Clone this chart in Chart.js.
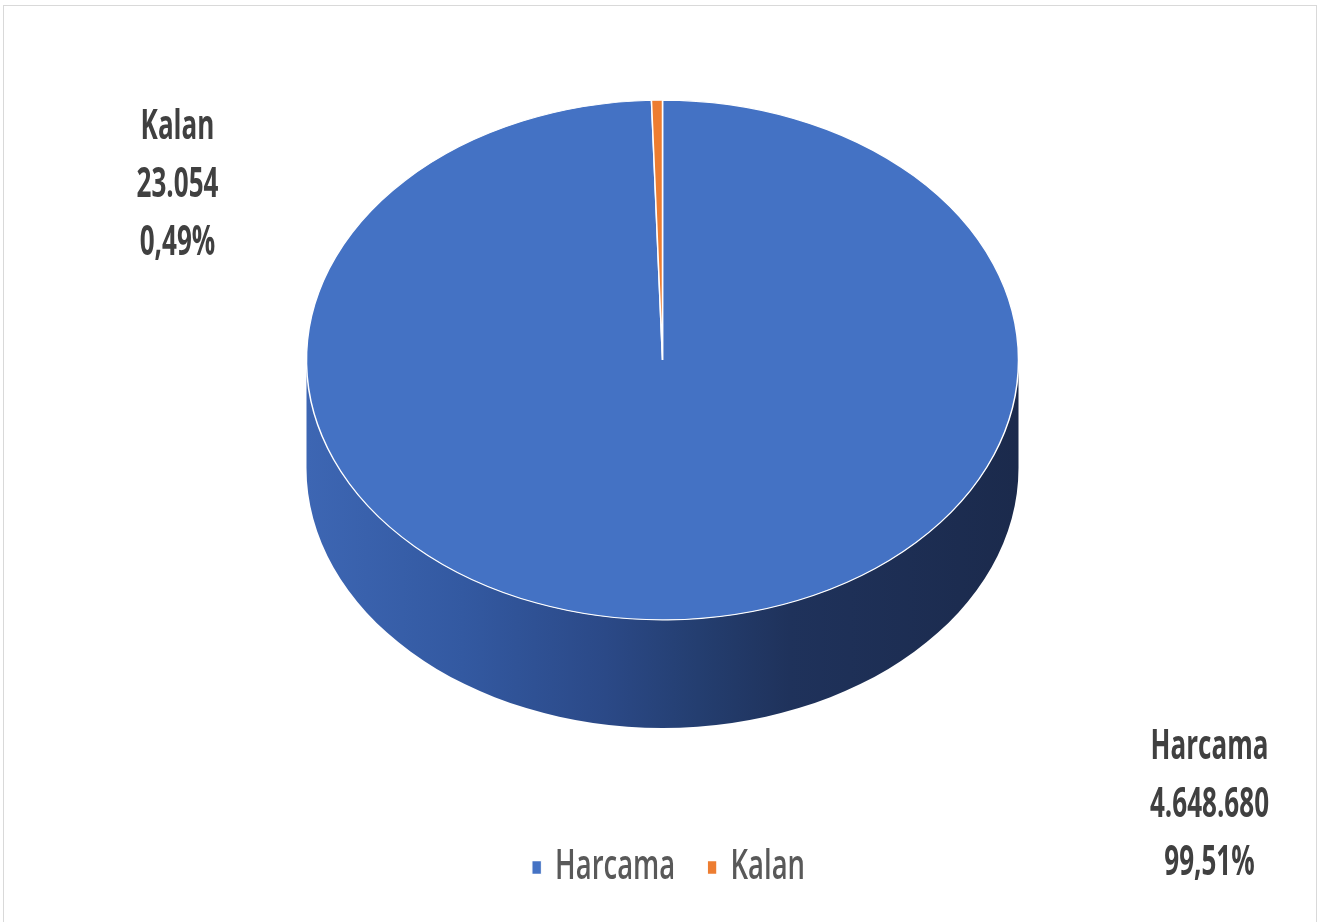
<!DOCTYPE html>
<html>
<head>
<meta charset="utf-8">
<script src="https://cdn.jsdelivr.net/npm/chart.js@4/dist/chart.umd.min.js"></script>
<style>
    html, body { margin: 0; padding: 0; background: #fff; }
    #wrap { position: relative; width: 1333px; height: 922px; }
    #frame {
        position: absolute; left: 3px; top: 5px; width: 1314px; height: 920px;
        border: 1px solid #d9d9d9; box-sizing: border-box; pointer-events: none;
    }
    canvas { position: absolute; left: 0; top: 0; }
</style>
</head>
<body>
<div id="wrap">
    <canvas id="grafico" width="1333" height="922"></canvas>
    <div id="frame"></div>
</div>
<script>
// datos
const categorias = ['Harcama', 'Kalan'];
const montos = [4648680, 23054];
const colores = ['#4472c4', '#ed7d31'];

const total = montos.reduce((a, b) => a + b, 0);

function formatoMiles(n) {
    return String(n).replace(/\B(?=(\d{3})+(?!\d))/g, '.');
}
function formatoPct(n) {
    return (n / total * 100).toFixed(2).replace('.', ',') + '%';
}

const INCLINACION = 0.73;   // alto / ancho de la elipse
const PROFUNDIDAD = 108;    // grosor del disco
const ESTRECHO_LEYENDA = 0.67;
const ESTRECHO_ETIQUETA = 0.62;

// etiquetas fuera del pastel, relativas al centro de la cara superior
const posEtiquetas = [
    { dx: 547, dy: 387 },
    { dx: -485, dy: -233 }
];

const pastel3d = {
    id: 'pastel3d',
    beforeDraw(chart) {
        // la leyenda se dibuja antes de los datasets: comprimirla en x
        const ctx = chart.ctx;
        const lg = chart.legend;
        const cx = (lg.left + lg.right) / 2 + 6;
        ctx.save();
        ctx.translate(cx, 0);
        ctx.scale(ESTRECHO_LEYENDA, 1);
        ctx.translate(-cx + 6, 0);
    },
    beforeDatasetsDraw(chart) {
        const ctx = chart.ctx;
        ctx.restore();

        const arco = chart.getDatasetMeta(0).data[0];
        const { x, y, outerRadius: r } = arco.getProps(['x', 'y', 'outerRadius'], true);
        const ry = r * INCLINACION;
        const arriba = y - PROFUNDIDAD / 2;

        // pared lateral
        ctx.save();
        const grad = ctx.createLinearGradient(x - r, 0, x + r, 0);
        grad.addColorStop(0, '#3d66b3');
        grad.addColorStop(0.22, '#3359a1');
        grad.addColorStop(0.42, '#2b4987');
        grad.addColorStop(0.55, '#243e70');
        grad.addColorStop(0.68, '#1f325b');
        grad.addColorStop(1, '#1b2a4c');
        ctx.beginPath();
        ctx.moveTo(x + r, arriba);
        ctx.lineTo(x + r, arriba + PROFUNDIDAD);
        ctx.ellipse(x, arriba + PROFUNDIDAD, r, ry, 0, 0, Math.PI);
        ctx.lineTo(x - r, arriba);
        ctx.ellipse(x, arriba, r, ry, 0, Math.PI, 0, true);
        ctx.closePath();
        ctx.fillStyle = grad;
        ctx.fill();
        ctx.restore();

        // cara superior: achatar el circulo de Chart.js
        ctx.save();
        ctx.translate(0, arriba);
        ctx.scale(1, INCLINACION);
        ctx.translate(0, -y);
    },
    afterDatasetsDraw(chart) {
        const ctx = chart.ctx;
        ctx.restore();

        const arco = chart.getDatasetMeta(0).data[0];
        const { x, y } = arco.getProps(['x', 'y'], true);
        const arriba = y - PROFUNDIDAD / 2;

        ctx.save();
        ctx.fillStyle = '#404040';
        ctx.font = 'bold 42px "Open Sans", sans-serif';
        ctx.textAlign = 'center';
        ctx.textBaseline = 'middle';
        categorias.forEach((cat, i) => {
            const p = posEtiquetas[i];
            const lineas = [cat, formatoMiles(montos[i]), formatoPct(montos[i])];
            const lx = x + p.dx;
            lineas.forEach((txt, j) => {
                ctx.save();
                ctx.translate(lx, arriba + p.dy + j * 58);
                ctx.scale(ESTRECHO_ETIQUETA, 1);
                ctx.fillText(txt, 0, 0);
                ctx.restore();
            });
        });
        ctx.restore();
    }
};

const ctx = document.getElementById('grafico').getContext('2d');
new Chart(ctx, {
    type: 'pie',
    data: {
        labels: categorias,
        datasets: [{
            data: montos,
            backgroundColor: colores,
            borderColor: '#ffffff',
            borderWidth: 1.5,
            radius: 356
        }]
    },
    options: {
        responsive: false,
        animation: false,
        layout: { padding: { top: 29, bottom: 24, right: 8 } },
        plugins: {
            tooltip: { enabled: false },
            legend: {
                position: 'bottom',
                labels: {
                    boxWidth: 14,
                    boxHeight: 14,
                    padding: 48,
                    color: '#595959',
                    font: { family: '"Open Sans", sans-serif', size: 41, weight: '600' }
                }
            }
        }
    },
    plugins: [pastel3d]
});
</script>
</body>
</html>
